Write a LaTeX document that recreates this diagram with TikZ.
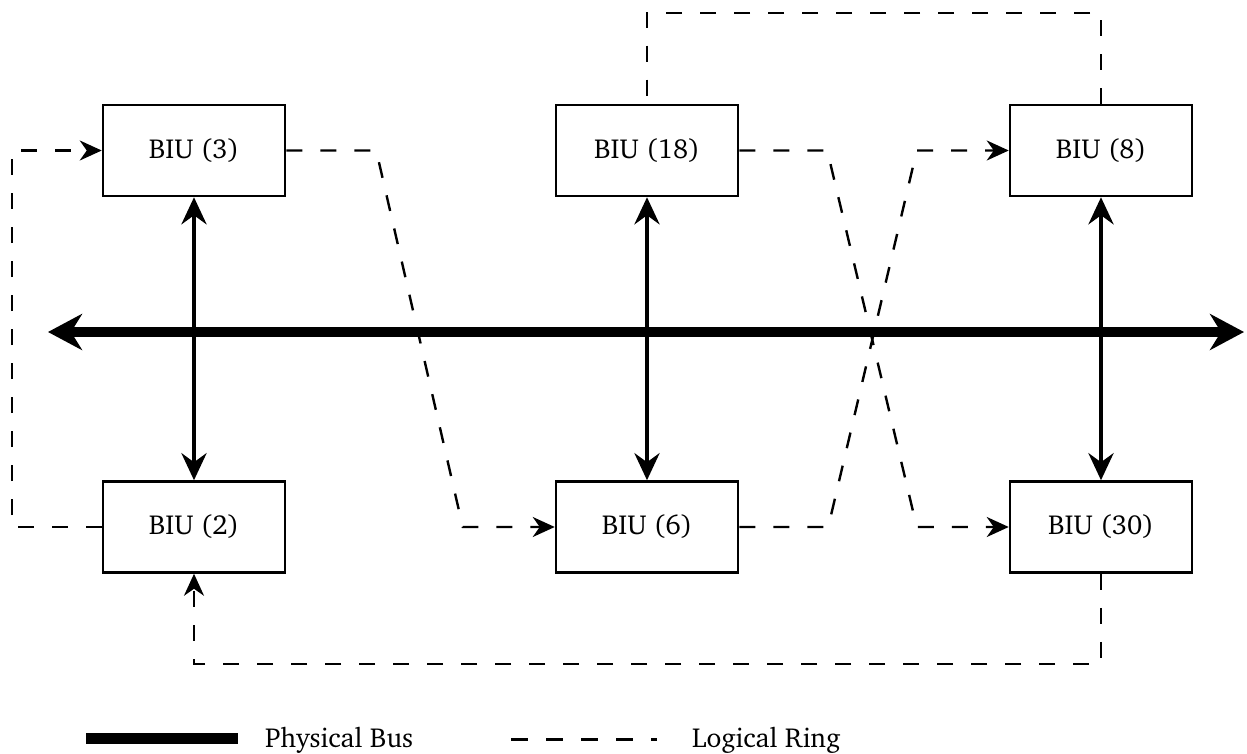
\documentclass[tikz,border=0pt]{standalone}
\usepackage[T1]{fontenc}
\usepackage{charter}
\usetikzlibrary{arrows.meta,calc}

\tikzset{
  biu/.style={draw, line width=2.5pt, minimum width=182pt, minimum height=91pt,
              inner sep=0pt, font=\fontsize{27.5}{32}\selectfont},
  ring/.style={line width=2.4pt, dash pattern=on 16pt off 18pt},
  ringarrow/.style={ring, -{Stealth[length=22pt, width=20pt, inset=7pt]}},
  link/.style={line width=4.5pt, {Stealth[length=27pt, width=25pt, inset=9pt]}-{Stealth[length=27pt, width=25pt, inset=9pt]}},
  bus/.style={line width=10pt, {Stealth[length=34pt, width=36pt, inset=11pt]}-{Stealth[length=34pt, width=36pt, inset=11pt]}},
  legendtext/.style={anchor=west, inner sep=0pt, font=\fontsize{27.5}{32}\selectfont}
}

\begin{document}
\begin{tikzpicture}[x=1pt, y=-1pt]
  \useasboundingbox (0,0) rectangle (1247,754);

  % bus interface units
  \node[biu] (b3)  at (194,150.5)  {BIU (3)};
  \node[biu] (b18) at (647,150.5)  {BIU (18)};
  \node[biu] (b8)  at (1101,150.5) {BIU (8)};
  \node[biu] (b2)  at (194,527)    {BIU (2)};
  \node[biu] (b6)  at (647,527)    {BIU (6)};
  \node[biu] (b30) at (1101,527)   {BIU (30)};

  % physical bus
  \coordinate (busL) at (48,332);
  \coordinate (busR) at (1244,332);
  \draw[bus] (busL) -- (busR);

  % taps to the bus
  \draw[link] (b3.south)  -- (b2.north);
  \draw[link] (b18.south) -- (b6.north);
  \draw[link] (b8.south)  -- (b30.north);

  % logical ring
  \draw[ringarrow] (b2.west) -- ++(-90,0) |- (b3.west);
  \draw[ringarrow] (b3.east) -- ++(90,0) -- ($(b6.west)+(-92,0)$) -- (b6.west);
  \draw[ringarrow] (b6.east) -- ++(89,0) -- ($(b8.west)+(-92,0)$) -- (b8.west);
  \draw[ring] (b8.north) -- ++(0,-91) -| (b18.north);
  \draw[ringarrow] (b18.east) -- ++(88,0) -- ($(b30.west)+(-92,0)$) -- (b30.west);
  \draw[ringarrow] (b30.south) -- ++(0,90) -| (b2.south);

  % legend
  \coordinate (lbA) at (86,738.5);
  \coordinate (lbB) at (238,738.5);
  \draw[line width=11pt] (lbA) -- (lbB);
  \node[legendtext] (lbt) at (265,740) {Physical Bus};
  \coordinate (lrA) at (511,739.5);
  \coordinate (lrB) at (657,739.5);
  \draw[line width=3pt, dash pattern=on 17pt off 18pt] (lrA) -- (lrB);
  \node[legendtext] (lrt) at (692,740) {Logical Ring};
\end{tikzpicture}
\end{document}
